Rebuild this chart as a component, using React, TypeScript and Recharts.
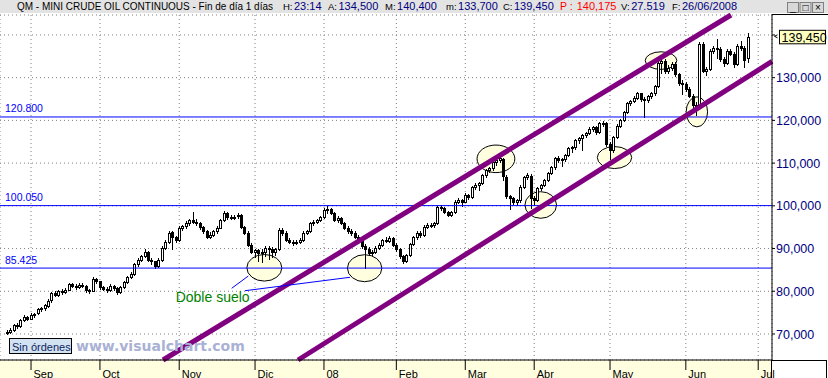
import { Bar, CartesianGrid, ComposedChart, ReferenceDot, ReferenceLine, XAxis, YAxis } from 'recharts';

// daily bars, [open, high, low, close]
const ohlc: [number, number, number, number][] = [
  [70.2, 70.9, 69.9, 70.5], [70.5, 71.4, 70.3, 71.0], [71.0, 72.4, 70.8, 72.0], [72.1, 72.5, 71.4, 71.8],
  [71.8, 73.6, 71.6, 73.2], [73.3, 74.4, 73.0, 74.0], [74.0, 74.3, 73.3, 73.6], [73.6, 74.8, 73.4, 74.5],
  [74.5, 75.0, 74.0, 74.7], [74.8, 76.1, 74.6, 75.8], [75.8, 76.4, 75.3, 76.0], [76.0, 77.0, 75.7, 76.7],
  [76.6, 78.1, 76.4, 77.8], [77.9, 79.9, 77.6, 79.5], [79.5, 80.0, 78.8, 79.2], [79.2, 80.4, 79.0, 80.0],
  [80.1, 80.5, 79.4, 79.8], [79.8, 80.8, 79.5, 80.4], [80.4, 82.0, 80.2, 81.6], [81.7, 81.9, 80.9, 81.2],
  [81.2, 81.6, 80.6, 81.0], [81.0, 81.9, 80.8, 81.4], [81.5, 82.0, 80.9, 81.2], [81.3, 81.5, 79.8, 80.2],
  [80.2, 80.6, 79.6, 80.0], [80.1, 83.4, 80.0, 82.8], [82.8, 83.1, 81.9, 82.3], [82.3, 82.5, 80.6, 81.0],
  [81.0, 81.3, 80.2, 80.6], [80.6, 81.0, 79.9, 80.2], [80.2, 81.6, 80.0, 81.2], [81.2, 81.5, 80.4, 80.7],
  [80.8, 81.0, 79.3, 79.8], [79.8, 81.3, 79.6, 81.0], [81.0, 82.5, 80.8, 82.2], [82.2, 83.6, 82.0, 83.3],
  [83.4, 84.5, 83.0, 84.0], [84.0, 86.6, 83.8, 86.3], [86.3, 87.8, 86.0, 87.4], [87.4, 88.6, 87.0, 88.2],
  [88.3, 90.0, 88.0, 89.3], [89.2, 89.4, 87.0, 87.4], [87.4, 87.9, 86.4, 87.0], [87.0, 87.2, 85.5, 85.8],
  [85.8, 87.8, 85.6, 87.4], [87.4, 90.5, 87.2, 90.2], [90.2, 91.9, 89.8, 91.6], [91.6, 94.0, 91.4, 93.7],
  [93.8, 94.2, 89.9, 92.6], [92.6, 93.0, 91.5, 92.0], [92.0, 95.2, 91.8, 94.9], [94.9, 95.6, 94.4, 95.2],
  [95.2, 96.4, 94.8, 96.0], [96.0, 97.0, 95.6, 96.7], [96.7, 98.6, 96.0, 96.3], [96.3, 96.8, 95.5, 96.0],
  [96.0, 96.3, 94.6, 95.0], [95.0, 95.3, 93.6, 94.0], [94.0, 94.4, 92.4, 92.8], [92.8, 93.8, 92.5, 93.2],
  [93.2, 94.3, 92.9, 94.0], [94.0, 95.2, 93.7, 94.9], [94.9, 97.0, 94.7, 96.7], [96.7, 98.8, 96.5, 98.4],
  [98.4, 98.6, 97.0, 97.4], [97.4, 97.8, 96.8, 97.2], [97.2, 97.9, 96.9, 97.5], [97.6, 98.4, 97.2, 97.9],
  [97.9, 98.1, 94.7, 95.0], [95.0, 95.3, 93.4, 93.7], [93.7, 94.0, 90.6, 90.9], [90.9, 91.3, 89.0, 89.3],
  [89.3, 90.0, 88.0, 89.6], [89.6, 89.9, 87.0, 89.0], [89.0, 89.8, 86.8, 89.3], [89.3, 90.7, 88.2, 90.2],
  [90.2, 90.6, 87.5, 89.8], [89.9, 90.3, 88.0, 89.3], [89.3, 90.1, 88.4, 89.8], [89.8, 94.8, 89.6, 94.4],
  [94.4, 94.9, 93.2, 93.7], [93.7, 94.0, 91.7, 92.0], [92.0, 92.4, 91.2, 91.6], [91.6, 92.0, 90.8, 91.4],
  [91.4, 92.0, 91.0, 91.6], [91.6, 92.4, 91.2, 92.0], [92.0, 94.0, 91.8, 93.7], [93.7, 94.4, 93.3, 94.0],
  [94.0, 96.3, 93.8, 96.0], [96.0, 96.7, 95.6, 96.3], [96.3, 97.0, 96.0, 96.7], [96.7, 97.7, 96.4, 97.4],
  [97.4, 99.6, 97.2, 99.0], [99.0, 100.0, 98.4, 99.2], [99.2, 99.5, 98.0, 98.4], [98.4, 98.6, 96.4, 96.7],
  [96.7, 97.6, 96.3, 97.2], [97.2, 97.4, 95.7, 96.0], [96.0, 96.3, 94.6, 94.9], [94.9, 95.3, 93.7, 94.0],
  [94.0, 94.5, 93.2, 93.7], [93.7, 94.0, 92.4, 92.8], [92.8, 93.2, 91.6, 92.0], [92.0, 92.3, 90.2, 90.5],
  [90.5, 91.0, 85.5, 89.8], [89.8, 90.4, 88.6, 89.0], [89.0, 89.6, 88.4, 89.2], [89.2, 90.6, 88.9, 90.2],
  [90.2, 91.2, 89.9, 90.9], [90.9, 92.3, 90.6, 92.0], [92.0, 92.6, 91.5, 91.8], [91.8, 92.9, 91.5, 92.5],
  [92.5, 92.8, 90.6, 90.9], [90.9, 91.2, 89.4, 89.8], [89.8, 90.1, 87.9, 88.3], [88.3, 88.6, 86.6, 87.0],
  [87.0, 88.8, 86.8, 88.4], [88.4, 91.3, 88.2, 91.0], [91.0, 93.0, 90.8, 92.6], [92.6, 94.0, 92.3, 93.7],
  [93.7, 94.1, 92.8, 93.2], [93.2, 95.4, 93.0, 95.1], [95.1, 95.9, 94.8, 95.6], [95.6, 96.0, 95.0, 95.4],
  [95.4, 96.3, 95.1, 96.0], [96.0, 100.0, 95.8, 99.8], [99.8, 100.3, 99.0, 99.5], [99.5, 99.8, 98.3, 98.6],
  [98.6, 98.9, 97.6, 97.9], [97.9, 98.9, 97.6, 98.6], [98.6, 101.3, 98.4, 101.0], [101.0, 101.8, 100.6, 101.4],
  [101.4, 101.6, 99.9, 101.0], [101.0, 102.9, 100.8, 102.6], [102.6, 102.8, 101.5, 102.0], [102.0, 104.7, 101.8, 104.4],
  [104.4, 105.3, 104.0, 104.9], [104.9, 105.6, 103.7, 105.3], [105.3, 107.5, 105.0, 107.2], [107.2, 108.7, 106.8, 108.4],
  [108.4, 109.2, 107.9, 108.8], [108.8, 110.5, 108.4, 110.2], [110.2, 111.4, 109.6, 110.7], [110.7, 111.9, 110.3, 111.2],
  [111.0, 111.3, 106.0, 107.0], [106.8, 107.2, 101.8, 102.3], [102.3, 102.6, 99.2, 101.8], [101.8, 102.0, 100.4, 100.9],
  [100.9, 101.6, 100.2, 101.4], [101.4, 104.8, 100.8, 104.4], [104.4, 107.0, 104.2, 106.7], [106.7, 107.6, 106.2, 107.2],
  [107.0, 107.4, 99.6, 101.8], [101.8, 102.3, 100.3, 101.4], [101.4, 104.5, 101.2, 104.2], [104.2, 105.2, 103.8, 104.9],
  [104.9, 106.3, 104.6, 106.0], [106.0, 108.0, 105.7, 107.7], [107.7, 109.3, 107.4, 109.0], [109.0, 111.5, 108.7, 111.2],
  [111.2, 111.6, 110.2, 110.7], [110.7, 111.2, 109.4, 110.9], [110.9, 112.2, 110.6, 111.9], [111.9, 113.8, 111.6, 113.5],
  [113.5, 114.0, 112.7, 113.7], [113.7, 115.6, 113.4, 115.3], [115.3, 116.1, 114.8, 115.8], [115.8, 116.8, 113.0, 116.5],
  [116.5, 117.3, 116.0, 117.0], [117.0, 118.4, 116.7, 118.1], [118.1, 118.8, 117.6, 118.4], [118.4, 118.7, 116.9, 117.2],
  [117.2, 119.7, 117.0, 119.3], [119.3, 119.9, 118.8, 119.5], [119.3, 119.6, 114.1, 114.5], [114.5, 115.0, 111.0, 113.0],
  [113.0, 116.3, 112.7, 116.0], [116.0, 119.1, 115.8, 118.8], [118.8, 120.4, 118.5, 120.0], [120.0, 122.2, 119.8, 121.9],
  [121.9, 124.3, 121.7, 124.0], [124.0, 124.8, 123.6, 124.5], [124.5, 125.6, 124.2, 125.3], [125.3, 126.6, 125.0, 126.3],
  [126.3, 126.5, 124.6, 125.0], [125.0, 125.4, 120.8, 124.7], [124.7, 125.9, 124.4, 125.6], [125.6, 126.6, 125.3, 126.3],
  [126.3, 128.3, 126.0, 128.0], [128.0, 134.0, 127.7, 133.5], [133.5, 135.4, 131.0, 134.0], [134.0, 134.3, 131.2, 131.6],
  [131.6, 132.9, 131.1, 132.3], [132.3, 133.7, 131.8, 133.3], [133.3, 133.6, 130.5, 130.9], [130.9, 131.2, 128.3, 128.8],
  [128.8, 129.5, 126.2, 128.6], [128.6, 129.0, 126.8, 127.4], [127.4, 127.8, 125.4, 125.8], [125.8, 126.2, 122.0, 123.5],
  [123.5, 124.2, 121.2, 123.0], [123.0, 138.3, 122.8, 137.9], [137.9, 138.4, 131.3, 131.6], [131.6, 132.6, 130.6, 132.0],
  [132.0, 136.6, 131.7, 136.3], [136.3, 137.4, 135.8, 137.0], [137.0, 139.0, 134.7, 136.8], [136.8, 137.2, 134.0, 134.4],
  [134.4, 134.8, 132.8, 133.5], [133.5, 136.6, 133.2, 136.3], [136.3, 136.8, 135.2, 135.6], [135.6, 135.9, 132.6, 133.3],
  [133.3, 137.8, 133.0, 137.4], [137.4, 138.5, 136.5, 137.0], [137.0, 137.4, 132.5, 134.2], [134.5, 140.4, 133.7, 139.45],
];

// first session of each month (bar index) and its label
const monthTickIndex = [7, 27, 50, 72, 92, 113, 133, 153, 175, 197, 218];
const monthTickLabels = ['Sep', 'Oct', 'Nov', 'Dic', '08', 'Feb', 'Mar', 'Abr', 'May', 'Jun', 'Jul'];
const priceTicks = [70, 80, 90, 100, 110, 120, 130, 140];

// horizontal support / resistance levels
const levelValues = [120.8, 100.05, 85.425];
const levelLabels = ['120.800', '100.050', '85.425'];

// channel drawn by hand: two points each, in (bar index, price)
const channelUpper = [{ x: 45.3, y: 63.91 }, { x: 210.1, y: 144.67 }];
const channelLower = [{ x: 84.47, y: 63.91 }, { x: 222, y: 133.81 }];

// circled turning points
const circledPoints = [
  { i: 74.7, v: 85.5 }, { i: 103.8, v: 85.4 }, { i: 141.9, v: 111.0 }, { i: 154.9, v: 100.2 },
  { i: 176.3, v: 111.3 }, { i: 189.8, v: 134.0 }, { i: 200.2, v: 122.0 },
];
const circleRadii = [[17.5, 13.3], [17.2, 13.5], [18.9, 13.8], [15.8, 13.3], [17.2, 11], [15.8, 8.8], [10.7, 15]];

// "Doble suelo" note and its two pointer strokes
const noteText = 'Doble suelo';
const noteAnchor = { i: 48.98, v: 77.42 };
const pointerLines = [
  [{ x: 65.23, y: 80.7 }, { x: 70.05, y: 83.57 }],
  [{ x: 69.09, y: 80.13 }, { x: 99.56, y: 83.27 }],
];

const lastClose = 139.45;
const lastCloseLabel = '139,450';

const headerTitle = 'QM - MINI CRUDE OIL CONTINUOUS - Fin de día 1 días';
const headerLabels = ['H:', 'A:', 'M:', 'm:', 'C:', 'P :', 'V:', 'F:'];
const headerValues = ['23:14', '134,500', '140,400', '133,700', '139,450', '140,175', '27.519', '26/06/2008'];

const headerFieldX = [283, 328, 385, 446, 503, 560, 621, 672];

const FONT = '"Liberation Sans", Arial, sans-serif';
const W = 828;
const H = 378;

type Row = { i: number; o: number; h: number; l: number; c: number; range: [number, number] };

const rows: Row[] = ohlc.map(([o, h, l, c], i) => ({ i, o, h, l, c, range: [l, h] }));

function Candle(props: any) {
  const { x = 0, y = 0, width = 0, height = 0, payload } = props;
  if (!payload) return null;
  const { o, h, l, c } = payload as Row;
  const top = Math.min(y, y + height);
  const bottom = Math.max(y, y + height);
  const span = h - l || 1;
  const toY = (v: number) => top + ((h - v) / span) * (bottom - top);
  const cx = Math.round(x + width / 2) + 0.5;
  const y1 = Math.round(toY(Math.max(o, c))) + 0.5;
  const y2 = Math.max(Math.round(toY(Math.min(o, c))) + 0.5, y1 + 1);
  return (
    <g>
      <line x1={cx} x2={cx} y1={Math.round(top)} y2={Math.round(bottom) + 1} stroke="#000" />
      <rect x={cx - 1} y={y1} width={2} height={y2 - y1} fill={c >= o ? '#fff' : '#000'} stroke="#000" />
    </g>
  );
}

function MonthTick(props: any) {
  const { x, y, payload } = props;
  const k = monthTickIndex.indexOf(payload.value);
  return (
    <text x={x + 2.5} y={y + 7.5} fontSize={11} fontFamily={FONT} fill="#000">
      {monthTickLabels[k]}
    </text>
  );
}

function PriceTick(props: any) {
  const { x, y, payload } = props;
  if (payload.value === 140) return <g />;
  return (
    <text x={x} y={y} dy={4.6} textAnchor="start" fontSize={12.5} fontFamily={FONT} fill="#000080">
      {payload.value.toFixed(3).replace('.', ',')}
    </text>
  );
}

function LevelLabel(text: string) {
  return (props: any) => {
    const vb = props.viewBox || {};
    return (
      <text x={(vb.x || 0) + 5} y={(vb.y || 0) - 4.5} fontSize={10.5} fontFamily={FONT} fill="#0000ff">
        {text}
      </text>
    );
  };
}

function LastPriceLabel(props: any) {
  const vb = props.viewBox || {};
  const x = (vb.x || 0) + (vb.width || 0);
  const y = vb.y || 0;
  return (
    <g>
      <path d={`M${x + 5.5},${y - 2.5} L${x + 2.5},${y - 1} L${x + 5.5},${y + 0.5}`} stroke="#000" fill="none" />
      <rect x={x + 7.5} y={y - 7} width={46} height={13.5} fill="#ffffc0" stroke="#000" />
      <text x={x + 9.5} y={y + 4.3} fontSize={12.5} fontFamily={FONT} fill="#000">
        {lastCloseLabel}
      </text>
    </g>
  );
}

export default function App() {
  return (
    <div style={{ position: 'absolute', left: 0, top: 0, width: W, height: H, overflow: 'hidden', background: '#fff' }}>
      <svg width={W} height={H} style={{ position: 'absolute', left: 0, top: 0 }}>
        <rect x={0} y={360} width={772} height={18} fill="#ffffe0" />
        <line x1={771.5} x2={828} y1={14.5} y2={14.5} stroke="#000" />
        <rect x={771.5} y={360.5} width={55} height={20} fill="#fff" stroke="#000" />
      </svg>

      <div style={{ position: 'absolute', left: 0, top: 0 }}>
        <ComposedChart width={W} height={H} data={rows} margin={{ top: 15, right: 0, bottom: 0, left: 0 }}>
          <CartesianGrid stroke="#808080" strokeDasharray="1 3" />
          <XAxis
            type="number"
            dataKey="i"
            domain={[-2, 222]}
            allowDataOverflow
            ticks={monthTickIndex}
            interval={0}
            height={18}
            tickSize={10}
            tickMargin={0}
            axisLine={{ stroke: '#000' }}
            tickLine={{ stroke: '#000' }}
            tick={MonthTick}
          />
          <YAxis
            orientation="right"
            type="number"
            domain={[63.91, 144.67]}
            allowDataOverflow
            ticks={priceTicks}
            interval={0}
            width={56}
            tickSize={3}
            tickMargin={1}
            axisLine={{ stroke: '#000' }}
            tickLine={{ stroke: '#000' }}
            tick={PriceTick}
          />
          {circledPoints.map((p, k) => (
            <ReferenceDot
              key={`c${k}`}
              x={p.i}
              y={p.v}
              r={1}
              zIndex={-20}
              shape={(s: any) => (
                <ellipse cx={s.cx} cy={s.cy} rx={circleRadii[k][0]} ry={circleRadii[k][1]} fill="#ffffe0" stroke="#000" />
              )}
            />
          ))}
          <Bar dataKey="range" barSize={3} shape={Candle} isAnimationActive={false} zIndex={300} />
          {levelValues.map((v, k) => (
            <ReferenceLine key={`l${k}`} y={v} stroke="#0000ff" strokeWidth={1} zIndex={350} label={LevelLabel(levelLabels[k])} />
          ))}
          <ReferenceLine segment={channelUpper} stroke="#800080" strokeWidth={5} ifOverflow="visible" zIndex={360} />
          <ReferenceLine segment={channelLower} stroke="#800080" strokeWidth={5} ifOverflow="visible" zIndex={360} />
          {pointerLines.map((seg, k) => (
            <ReferenceLine key={`p${k}`} segment={seg} stroke="#0000ff" strokeWidth={1} ifOverflow="visible" zIndex={370} />
          ))}
          <ReferenceDot
            x={noteAnchor.i}
            y={noteAnchor.v}
            r={1}
            zIndex={2000}
            shape={(s: any) => (
              <text x={s.cx} y={s.cy} fontSize={14} fontFamily={FONT} fill="#008000">
                {noteText}
              </text>
            )}
          />
          <ReferenceLine y={lastClose} stroke="#000" strokeOpacity={0} zIndex={2000} label={LastPriceLabel} />
        </ComposedChart>
      </div>

      <svg width={W} height={H} style={{ position: 'absolute', left: 0, top: 0, pointerEvents: 'none' }}>
        <rect x={0} y={0} width={W} height={13} fill="#e3e3e3" />
        <text x={17} y={10} fontSize={10} fontFamily={FONT} fill="#000" textLength={256} lengthAdjust="spacingAndGlyphs">
          {headerTitle}
        </text>
        {headerLabels.map((t, k) => {
          const red = t === 'P :';
          return (
            <text key={`hf${k}`} x={headerFieldX[k]} y={10} fontSize={11} fontFamily={FONT}>
              <tspan fontSize={red ? 10.5 : 9.5} fill={red ? '#ff0000' : '#000'}>
                {t}
              </tspan>
              <tspan dx={red ? 4 : 1.5} fill={red ? '#ff0000' : '#000080'}>
                {headerValues[k]}
              </tspan>
            </text>
          );
        })}
        {['_', '□', '×'].map((g, k) => (
          <g key={`b${k}`}>
            <rect x={787.5 + k * 12.5} y={2.5} width={11} height={10} fill="#d8d8d8" stroke="#808080" />
            <text x={793 + k * 12.5} y={11} fontSize={10} fontFamily={FONT} textAnchor="middle" fill="#000">
              {g}
            </text>
          </g>
        ))}
        <rect x={9.5} y={338.5} width={62} height={15} fill="#d2e2f2" stroke="#000" />
        <text x={12} y={350.5} fontSize={11} fontFamily={FONT} fill="#0c2460">
          Sin órdenes
        </text>
        <text x={76} y={350.5} fontSize={14} fontWeight="bold" fontFamily='"DejaVu Sans", Verdana, sans-serif' fill="#a9b1d5">
          www.visualchart.com
        </text>
      </svg>
    </div>
  );
}
